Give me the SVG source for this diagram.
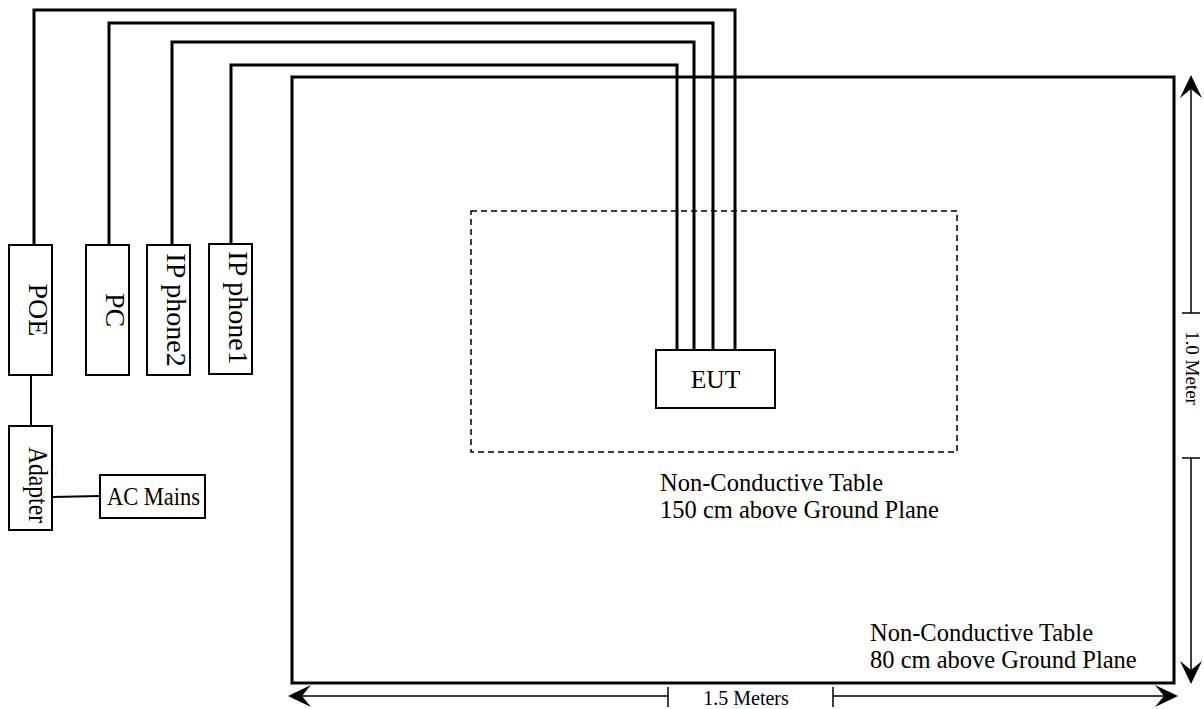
<svg xmlns="http://www.w3.org/2000/svg" width="1204" height="709" viewBox="0 0 1204 709">
<style>
.box{fill:#fff;stroke:#000;stroke-width:2}
.cable{fill:none;stroke:#000;stroke-width:3;stroke-linejoin:miter}
.wire{fill:none;stroke:#000;stroke-width:2}
.dim{fill:none;stroke:#000;stroke-width:1.5}
.ah{fill:#000;stroke:none}
text{font-family:"Liberation Serif","Times New Roman",serif;fill:#000}
.lbl{font-size:28px}
.big{font-size:24.5px}
.sm{font-size:20px}
</style>
<rect id="table80" x="292" y="77" width="882" height="606" fill="none" stroke="#000" stroke-width="3"/>
<rect id="table150" x="471" y="211" width="486" height="241" fill="none" stroke="#000" stroke-width="1.5" stroke-dasharray="6 4"/>
<g id="connectors">
<path class="cable" d="M34,245 V10 H735 V350"/>
<path class="cable" d="M109,245 V23 H713 V350"/>
<path class="cable" d="M172,245 V42 H694 V350"/>
<path class="cable" d="M231,244 V65 H677 V350"/>
<path class="wire" d="M31,375 V426"/>
<path class="wire" d="M52,497 L100,496"/>
</g>
<g id="poe"><rect class="box" x="9" y="245" width="43" height="130"/><text class="lbl" text-anchor="middle" transform="translate(29,310) rotate(90)">POE</text></g>
<g id="pc"><rect class="box" x="86" y="245" width="43" height="130"/><text class="lbl" text-anchor="middle" transform="translate(106,310) rotate(90)">PC</text></g>
<g id="ipphone2"><rect class="box" x="147" y="245" width="43" height="130"/><text class="lbl" text-anchor="middle" transform="translate(167,310) rotate(90)">IP phone2</text></g>
<g id="ipphone1"><rect class="box" x="209" y="244" width="43" height="130"/><text class="lbl" text-anchor="middle" transform="translate(229,308) rotate(90)">IP phone1</text></g>
<g id="adapter"><rect class="box" x="9" y="426" width="43" height="104"/><text class="lbl" text-anchor="middle" textLength="76" lengthAdjust="spacingAndGlyphs" transform="translate(29,485) rotate(90)">Adapter</text></g>
<g id="acmains"><rect class="box" x="100" y="475" width="105" height="43"/><text x="107" y="505" style="font-size:25px" textLength="93" lengthAdjust="spacingAndGlyphs">AC Mains</text></g>
<g id="eut"><rect class="box" x="656" y="350" width="119" height="58"/><text x="715.5" y="388" text-anchor="middle" style="font-size:25.5px">EUT</text></g>
<g id="label150">
<text class="big" x="660" y="491">Non-Conductive Table</text>
<text class="big" x="660" y="518">150 cm above Ground Plane</text>
</g>
<g id="label80">
<text class="big" x="870" y="641">Non-Conductive Table</text>
<text class="big" x="870" y="668">80 cm above Ground Plane</text>
</g>
<g id="dim-vertical">
<path class="dim" d="M1191,80 V313 M1182,313 H1200 M1191,458 V679 M1182,458 H1200"/>
<path class="ah" d="M1191,75 L1202,98 L1191,89 L1180,98 Z"/>
<path class="ah" d="M1191,684 L1202,661 L1191,670 L1180,661 Z"/>
<text text-anchor="middle" transform="translate(1186,368) rotate(90)" style="font-size:19px">1.0 Meter</text>
</g>
<g id="dim-horizontal">
<path class="dim" d="M293,696 H668 M668,687 V707 M833,696 H1173 M833,687 V707"/>
<path class="ah" d="M288,696 L311,685 L302,696 L311,707 Z"/>
<path class="ah" d="M1178,696 L1155,685 L1164,696 L1155,707 Z"/>
<text class="sm" x="746" y="705" text-anchor="middle">1.5 Meters</text>
</g>
</svg>
